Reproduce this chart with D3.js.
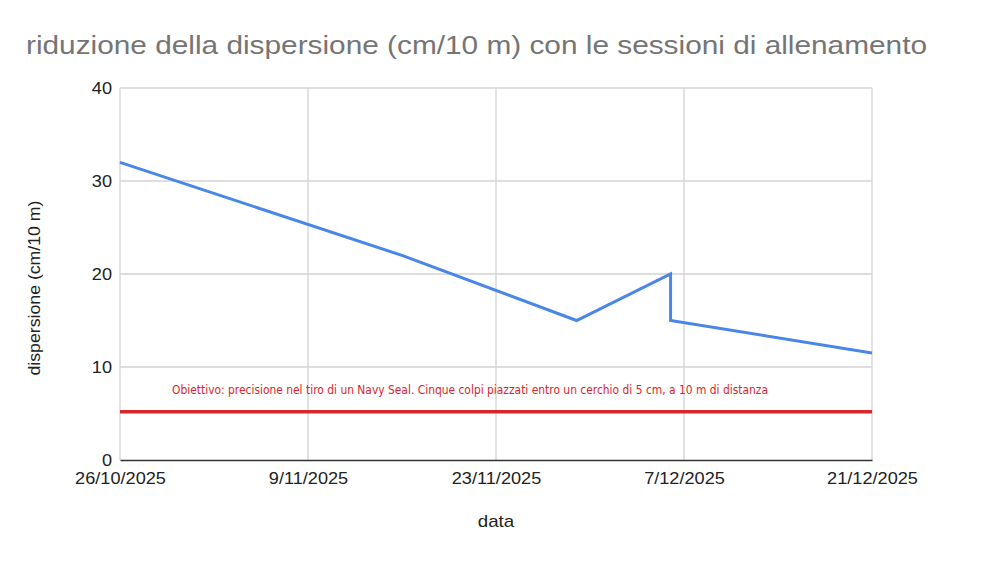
<!DOCTYPE html>
<html>
<head>
<meta charset="utf-8">
<script src="https://cdn.jsdelivr.net/npm/d3@7"></script>
<style>
  body { margin: 0; background: #fff; }
  svg { display: block; font-family: Arial, "Liberation Sans", sans-serif; }
</style>
</head>
<body>
<div id="chart"></div>
<script>
// dispersione per sessione (cm a 10 m)
var dates = ["26/10/2025", "16/11/2025", "29/11/2025", "6/12/2025", "6/12/2025", "21/12/2025"];
var dispersion = [32, 22, 15, 20, 15, 11.5];
var tickDates = ["26/10/2025", "9/11/2025", "23/11/2025", "7/12/2025", "21/12/2025"];
var yTicks = [0, 10, 20, 30, 40];
var targetValue = 5.2;
var targetLabel = "Obiettivo: precisione nel tiro di un Navy Seal. Cinque colpi piazzati entro un cerchio di 5 cm, a 10 m di distanza";

var W = 985, H = 563;
var margin = { top: 88, left: 120, right: 113, bottom: 103 },
    width = W - margin.left - margin.right,
    height = H - margin.top - margin.bottom;

var parse = d3.utcParse("%d/%m/%Y");
var fmt = d3.utcFormat("%-d/%m/%Y");

var data = dates.map(function(d, i) { return { date: parse(d), value: dispersion[i] }; });

// testo un po' piu' largo, come nel riferimento
function widen(sel, k) {
  sel.each(function() {
    var len = this.getComputedTextLength();
    d3.select(this)
      .attr("textLength", len * k)
      .attr("lengthAdjust", "spacingAndGlyphs");
  });
}

var svg = d3.select("#chart")
  .append("svg")
  .attr("width", W)
  .attr("height", H);

var g = svg.append("g")
  .attr("transform", "translate(" + margin.left + "," + margin.top + ")");

var x = d3.scaleUtc()
  .domain([parse(tickDates[0]), parse(tickDates[tickDates.length - 1])])
  .range([0, width]);
var y = d3.scaleLinear().domain([0, 40]).range([height, 0]);

// griglia
g.append("g")
  .selectAll("line.v")
  .data(tickDates.map(parse))
  .enter().append("line")
  .attr("x1", function(d) { return x(d); })
  .attr("x2", function(d) { return x(d); })
  .attr("y1", 0)
  .attr("y2", height)
  .attr("stroke", "#d3d3d3")
  .attr("stroke-width", 1.3);

g.append("g")
  .selectAll("line.h")
  .data(yTicks.slice(1))
  .enter().append("line")
  .attr("x1", 0)
  .attr("x2", width)
  .attr("y1", function(d) { return y(d); })
  .attr("y2", function(d) { return y(d); })
  .attr("stroke", "#d3d3d3")
  .attr("stroke-width", 1.3);

// assi
var xAxis = d3.axisBottom(x)
  .tickValues(tickDates.map(parse))
  .tickFormat(fmt)
  .tickSize(0)
  .tickPadding(12);

var yAxis = d3.axisLeft(y)
  .tickValues(yTicks)
  .tickSize(0)
  .tickPadding(8);

var gx = g.append("g")
  .attr("transform", "translate(0," + height + ")")
  .call(xAxis);
gx.select(".domain").attr("stroke", "#333").attr("stroke-width", 1.5);
gx.selectAll("text").attr("font-size", 16.5).attr("fill", "#222").call(widen, 1.1);

var gy = g.append("g").call(yAxis);
gy.select(".domain").remove();
gy.selectAll("text").attr("font-size", 16.5).attr("fill", "#222").call(widen, 1.1);

// linea obiettivo
g.append("line")
  .attr("x1", 0)
  .attr("x2", width)
  .attr("y1", y(targetValue))
  .attr("y2", y(targetValue))
  .attr("stroke", "#d9262c")
  .attr("stroke-width", 3.5);

g.append("text")
  .attr("x", 52)
  .attr("y", y(targetValue) - 18)
  .attr("font-family", "'Liberation Sans Narrow', 'DejaVu Sans Condensed', sans-serif")
  .attr("font-size", 12)
  .attr("fill", "#d9262c")
  .attr("textLength", 596)
  .attr("lengthAdjust", "spacingAndGlyphs")
  .text(targetLabel);

// serie
var line = d3.line()
  .x(function(d) { return x(d.date); })
  .y(function(d) { return y(d.value); });

g.append("path")
  .datum(data)
  .attr("fill", "none")
  .attr("stroke", "#4a86e8")
  .attr("stroke-width", 3)
  .attr("stroke-linejoin", "miter")
  .attr("d", line);

// titoli
svg.append("text")
  .attr("x", 26)
  .attr("y", 54)
  .attr("font-size", 26)
  .attr("fill", "#757575")
  .attr("textLength", 901)
  .attr("lengthAdjust", "spacingAndGlyphs")
  .text("riduzione della dispersione (cm/10 m) con le sessioni di allenamento");

svg.append("text")
  .attr("x", margin.left + width / 2)
  .attr("y", 527)
  .attr("text-anchor", "middle")
  .attr("font-size", 17)
  .attr("fill", "#222")
  .text("data")
  .call(widen, 1.1);

svg.append("text")
  .attr("transform", "translate(40," + (margin.top + height / 2 + 14) + ") rotate(-90)")
  .attr("text-anchor", "middle")
  .attr("font-size", 16)
  .attr("fill", "#222")
  .attr("textLength", 175)
  .attr("lengthAdjust", "spacingAndGlyphs")
  .text("dispersione (cm/10 m)");
</script>
</body>
</html>
